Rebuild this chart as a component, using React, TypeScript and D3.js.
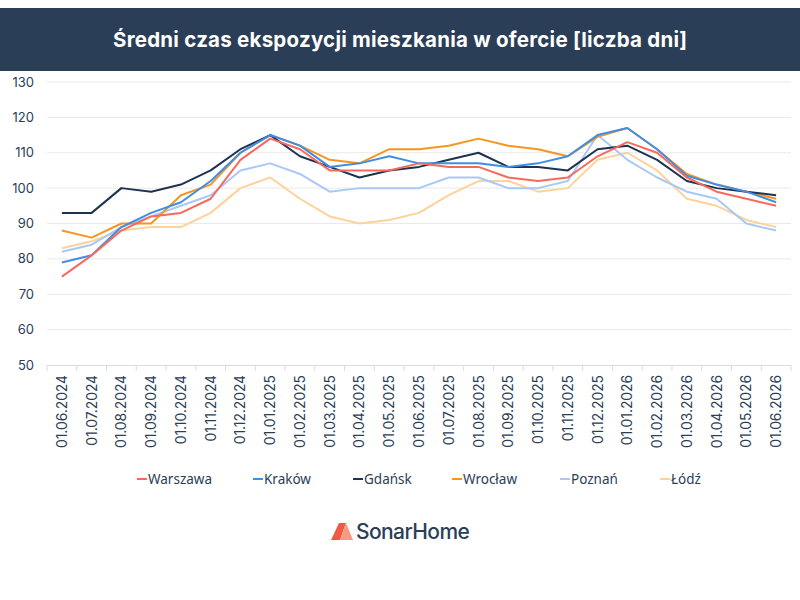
import React, { useEffect, useRef } from 'react';
import { select, scaleLinear, scaleBand, line, range } from 'd3';

const dates = [
  '01.06.2024', '01.07.2024', '01.08.2024', '01.09.2024', '01.10.2024', '01.11.2024',
  '01.12.2024', '01.01.2025', '01.02.2025', '01.03.2025', '01.04.2025', '01.05.2025',
  '01.06.2025', '01.07.2025', '01.08.2025', '01.09.2025', '01.10.2025', '01.11.2025',
  '01.12.2025', '01.01.2026', '01.02.2026', '01.03.2026', '01.04.2026', '01.05.2026',
  '01.06.2026',
];

const warszawa = [75, 81, 88, 92, 93, 97, 108, 114, 111, 105, 105, 105, 107, 106, 106, 103, 102, 103, 109, 113, 110, 103, 99, 97, 95];
const krakow = [79, 81, 89, 93, 96, 102, 110, 115, 112, 106, 107, 109, 107, 107, 107, 106, 107, 109, 115, 117, 111, 103.5, 101, 99, 96];
const gdansk = [93, 93, 100, 99, 101, 105, 111, 115, 109, 106, 103, 105, 106, 108, 110, 106, 106, 105, 111, 112, 108, 102, 100, 99, 98];
const wroclaw = [88, 86, 90, 90, 98, 101, 110, 115, 112, 108, 107, 111, 111, 112, 114, 112, 111, 109, 114.5, 117, 111, 104, 101, 99, 97];
const poznan = [82, 84, 89, 92, 95, 98, 105, 107, 104, 99, 100, 100, 100, 103, 103, 100, 100, 102, 115, 108, 103, 99, 97, 90, 88];
const lodz = [83, 85, 88, 89, 89, 93, 100, 103, 97, 92, 90, 91, 93, 98, 102, 102, 99, 100, 108, 110, 105, 97, 95, 91, 89];

const yTicks = [50, 60, 70, 80, 90, 100, 110, 120, 130];

const series = [
  { name: 'Warszawa', values: warszawa, color: '#f8695c' },
  { name: 'Kraków', values: krakow, color: '#3f8ee6' },
  { name: 'Gdańsk', values: gdansk, color: '#1e3350' },
  { name: 'Wrocław', values: wroclaw, color: '#f7961e' },
  { name: 'Poznań', values: poznan, color: '#a8c9f3' },
  { name: 'Łódź', values: lodz, color: '#fdd29c' },
];

const NAVY = '#2a3e57';

const App: React.FC = () => {
  const svgRef = useRef<SVGSVGElement | null>(null);

  useEffect(() => {
    const svg = select(svgRef.current);
    svg.selectAll('*').remove();

    const x = scaleBand().domain(dates).range([47, 791]).padding(0);
    const y = scaleLinear().domain([50, 130]).range([365, 82]);
    const cx = (d: string) => x(d)! + x.bandwidth() / 2;

    // header
    svg.append('rect').attr('x', 0).attr('y', 8).attr('width', 800).attr('height', 63).attr('fill', NAVY);
    svg.append('text')
      .attr('x', 400).attr('y', 47)
      .attr('text-anchor', 'middle')
      .attr('fill', '#fff')
      .attr('font-family', 'Inter, sans-serif')
      .attr('font-weight', 700)
      .attr('font-size', 20.5)
      .attr('textLength', 574)
      .text('Średni czas ekspozycji mieszkania w ofercie [liczba dni]');

    // grid
    const g = svg.append('g');
    g.selectAll('line.grid').data(yTicks.slice(1)).enter().append('line')
      .attr('x1', 47).attr('x2', 791)
      .attr('y1', d => y(d)).attr('y2', d => y(d))
      .attr('stroke', '#e9e9e9').attr('stroke-width', 1);

    g.selectAll('text.ytick').data(yTicks).enter().append('text')
      .attr('x', 34).attr('y', d => y(d) + 4.5)
      .attr('text-anchor', 'end')
      .attr('fill', NAVY)
      .attr('font-family', 'Inter, sans-serif')
      .attr('font-size', 13)
      .text(d => d);

    // x axis
    g.append('line').attr('x1', 47).attr('x2', 791).attr('y1', 365.5).attr('y2', 365.5)
      .attr('stroke', '#dcdcdc');
    g.selectAll('line.xtick').data(range(dates.length + 1)).enter().append('line')
      .attr('x1', i => 47 + i * x.bandwidth()).attr('x2', i => 47 + i * x.bandwidth())
      .attr('y1', 365).attr('y2', 371)
      .attr('stroke', '#dcdcdc');
    g.selectAll('text.xlab').data(dates).enter().append('text')
      .attr('transform', d => `translate(${cx(d) + 5},375) rotate(-90)`)
      .attr('text-anchor', 'end')
      .attr('fill', NAVY)
      .attr('font-family', 'Inter, sans-serif')
      .attr('font-size', 13.8)
      .text(d => d);

    // lines
    const ln = line<number>().x((_, i) => cx(dates[i])).y(d => y(d));
    series.slice().reverse().forEach(s => {
      g.append('path').attr('d', ln(s.values)!)
        .attr('fill', 'none').attr('stroke', s.color).attr('stroke-width', 2)
        .attr('stroke-linejoin', 'round');
    });

    // legend
    const lx = [137, 253, 353, 452, 560, 660];
    series.forEach((s, i) => {
      const lg = svg.append('g').attr('transform', `translate(${lx[i]},479)`);
      lg.append('line').attr('x1', 0).attr('x2', 10).attr('y1', 0).attr('y2', 0)
        .attr('stroke', s.color).attr('stroke-width', 2);
      lg.append('text').attr('x', 11).attr('y', 5)
        .attr('fill', NAVY)
        .attr('font-family', '"Noto Sans", sans-serif')
        .attr('font-size', 13.5)
        .text(s.name);
    });

    // logo
    const logo = svg.append('g').attr('transform', 'translate(331,523)');
    logo.append('path').attr('d', 'M0,17 L8,0 L15,0 L9,17 Z').attr('fill', '#ef5a45');
    logo.append('path').attr('d', 'M9,17 L15,0 L22,17 Z').attr('fill', '#f89a82');
    svg.append('text')
      .attr('x', 356).attr('y', 539)
      .attr('fill', NAVY)
      .attr('font-family', 'Inter, sans-serif')
      .attr('font-weight', 500)
      .attr('font-size', 21)
      .attr('letter-spacing', -0.6)
      .text('SonarHome');
  }, []);

  return (
    <div>
      <svg ref={svgRef} width={800} height={600} style={{ position: 'absolute', left: 0, top: 0, background: '#fff' }} />
    </div>
  );
};

export default App;
